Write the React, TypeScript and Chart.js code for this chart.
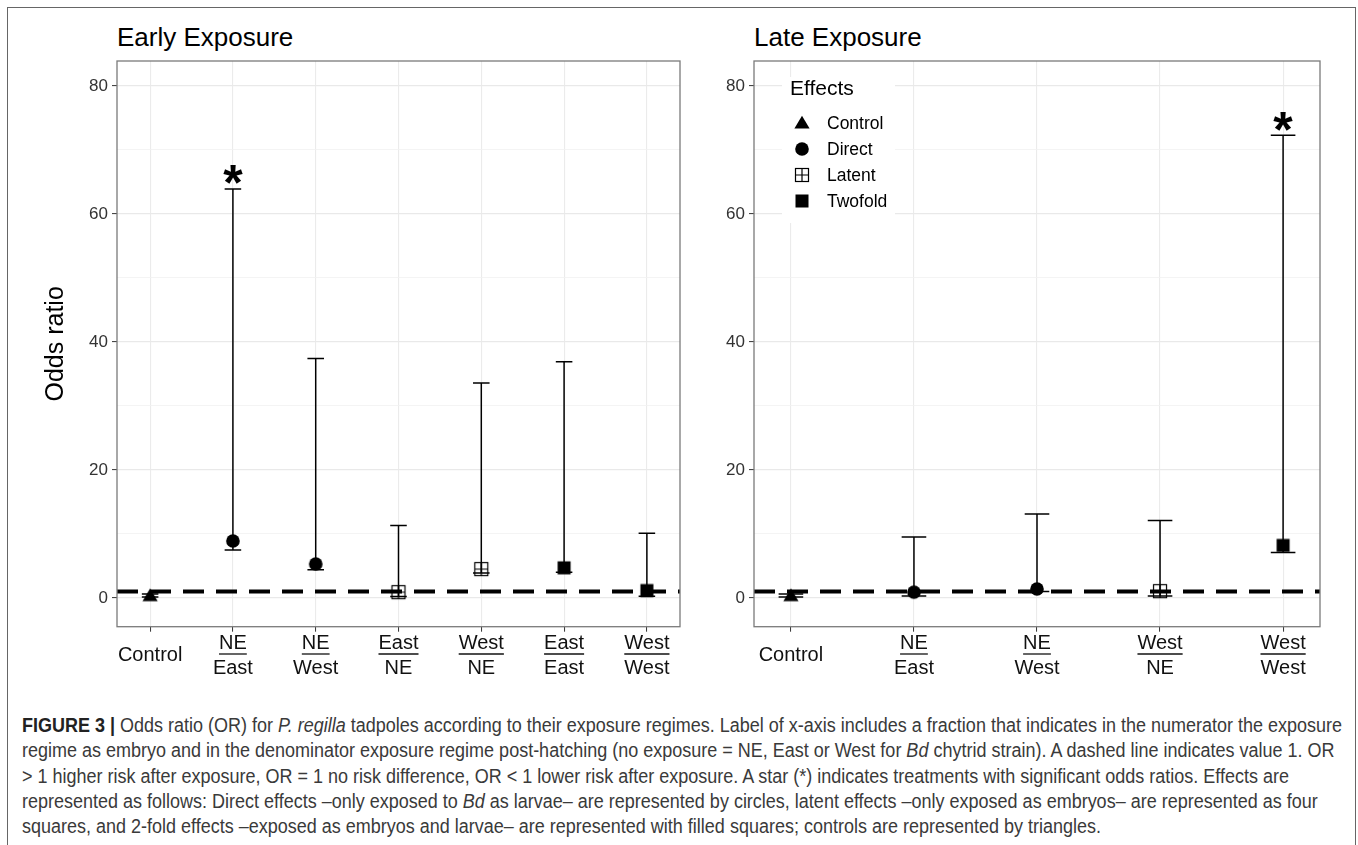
import React, { useEffect, useLayoutEffect, useRef } from 'react';
import { Chart, registerables } from 'chart.js';

Chart.register(...registerables);

// ---------------- data ----------------
const earlyNumerators = ['Control', 'NE', 'NE', 'East', 'West', 'East', 'West'];
const earlyDenominators = ['', 'East', 'West', 'NE', 'NE', 'East', 'West'];
const earlyEffects = ['Control', 'Direct', 'Direct', 'Latent', 'Latent', 'Twofold', 'Twofold'];
const earlyOddsRatio = [0.35, 8.9, 5.3, 0.9, 4.5, 4.7, 1.15];
const earlyLower = [0.15, 7.5, 4.4, 0.2, 3.9, 4.0, 0.25];
const earlyUpper = [0.6, 63.9, 37.4, 11.3, 33.6, 36.9, 10.1];
const earlySignificant = [false, true, false, false, false, false, false];

const lateNumerators = ['Control', 'NE', 'NE', 'West', 'West'];
const lateDenominators = ['', 'East', 'West', 'NE', 'West'];
const lateEffects = ['Control', 'Direct', 'Direct', 'Latent', 'Twofold'];
const lateOddsRatio = [0.35, 0.9, 1.4, 1.05, 8.2];
const lateLower = [0.15, 0.3, 1.0, 0.3, 7.1];
const lateUpper = [0.6, 9.5, 13.1, 12.1, 72.3];
const lateSignificant = [false, false, false, false, true];

const effectNames = ['Control', 'Direct', 'Latent', 'Twofold'];
const yMajorTicks = [0, 20, 40, 60, 80];
const yMinorTicks = [10, 30, 50, 70];
const referenceValue = 1;
const yMin = -4.5;
const yMax = 83.9;

const FONT = '"Liberation Sans", Arial, Helvetica, sans-serif';
Chart.defaults.font.family = FONT;

// ---------------- markers ----------------
function makeMarker(kind: string): HTMLCanvasElement {
  const c = document.createElement('canvas');
  c.width = 18;
  c.height = 18;
  const g = c.getContext('2d') as CanvasRenderingContext2D;
  g.fillStyle = '#000';
  g.strokeStyle = '#000';
  const m = 9;
  if (kind === 'Control') {
    g.beginPath();
    g.moveTo(m, m - 7.2);
    g.lineTo(m + 7.6, m + 5.6);
    g.lineTo(m - 7.6, m + 5.6);
    g.closePath();
    g.fill();
  } else if (kind === 'Direct') {
    g.beginPath();
    g.arc(m, m, 6.8, 0, Math.PI * 2);
    g.fill();
  } else if (kind === 'Latent') {
    g.lineWidth = 1.2;
    g.strokeRect(m - 6.5, m - 6.5, 13, 13);
    g.beginPath();
    g.moveTo(m, m - 6.5);
    g.lineTo(m, m + 6.5);
    g.moveTo(m - 6.5, m);
    g.lineTo(m + 6.5, m);
    g.stroke();
  } else {
    g.fillRect(m - 6.5, m - 6.5, 13, 13);
  }
  return c;
}

interface PanelCfg {
  numerators: string[];
  denominators: string[];
  effects: string[];
  or: number[];
  lower: number[];
  upper: number[];
  significant: boolean[];
  padLeftUnits: number;
  padRightUnits: number;
  yAxisWidth: number;
  rightPad: number;
  showYTitle: boolean;
  showLegend: boolean;
}

const CAP_HALF = 0.1;
const X_TICK_LEN = 5;
const X_TICK_PAD = 11.3;

function buildPanel(canvas: HTMLCanvasElement, cfg: PanelCfg) {
  const markers: Record<string, HTMLCanvasElement> = {};
  effectNames.forEach((e) => (markers[e] = makeMarker(e)));
  const n = cfg.numerators.length;
  const xMin = -cfg.padLeftUnits;
  const xMax = n - 1 + cfg.padRightUnits;

  const datasets: any[] = [];
  datasets.push({
    data: [
      { x: xMin, y: referenceValue },
      { x: xMax, y: referenceValue },
    ],
    showLine: true,
    borderColor: '#000',
    borderWidth: 3.8,
    borderDash: [21, 12],
    borderCapStyle: 'butt',
    pointRadius: 0,
    order: 0,
  });
  datasets.push({
    data: cfg.or.map((v, i) => ({ x: i, y: v })),
    pointStyle: (ctx: any) => markers[cfg.effects[ctx.dataIndex]],
    pointRadius: 9,
    showLine: false,
    order: 1,
  });
  cfg.or.forEach((_, i) => {
    const lo = cfg.lower[i];
    const hi = cfg.upper[i];
    datasets.push({
      data: [
        { x: i - CAP_HALF, y: hi },
        { x: i + CAP_HALF, y: hi },
        { x: i, y: hi },
        { x: i, y: lo },
        { x: i - CAP_HALF, y: lo },
        { x: i + CAP_HALF, y: lo },
      ],
      showLine: true,
      borderColor: '#000',
      borderWidth: 1.5,
      tension: 0,
      pointRadius: 0,
      order: 2,
    });
  });

  const panelPlugin = {
    id: 'panelExtras',
    beforeDatasetsDraw(chart: any) {
      if (!cfg.showLegend) return;
      const { ctx, chartArea } = chart;
      const L = chartArea.left;
      const T = chartArea.top;
      ctx.save();
      ctx.fillStyle = '#fff';
      ctx.fillRect(L + 28, T + 16, 113, 146);
      ctx.fillStyle = '#000';
      ctx.textBaseline = 'middle';
      ctx.textAlign = 'left';
      ctx.font = `21px ${FONT}`;
      ctx.fillText('Effects', L + 36, T + 28);
      ctx.font = `17.5px ${FONT}`;
      effectNames.forEach((e, k) => {
        const cy = T + 62 + k * 26;
        const mk = markers[e];
        ctx.drawImage(mk, L + 48 - mk.width / 2, cy - mk.height / 2);
        ctx.fillText(e, L + 73, cy + 1);
      });
      ctx.restore();
    },
    afterDatasetsDraw(chart: any) {
      const { ctx, scales } = chart;
      const x = scales.x;
      const y = scales.y;
      ctx.save();
      ctx.fillStyle = '#000';
      ctx.textAlign = 'center';
      ctx.textBaseline = 'alphabetic';
      ctx.font = `bold 50px ${FONT}`;
      cfg.significant.forEach((s, i) => {
        if (!s) return;
        ctx.fillText('*', x.getPixelForValue(i), y.getPixelForValue(cfg.upper[i]) + 11.3);
      });
      ctx.restore();
    },
    afterDraw(chart: any) {
      const { ctx, chartArea, scales } = chart;
      ctx.save();
      ctx.strokeStyle = '#7a7a7a';
      ctx.lineWidth = 1.3;
      ctx.strokeRect(chartArea.left, chartArea.top, chartArea.right - chartArea.left, chartArea.bottom - chartArea.top);
      // underline numerators of x labels (fraction bar)
      const x = scales.x;
      ctx.font = `20px ${FONT}`;
      ctx.strokeStyle = '#111';
      ctx.lineWidth = 1.3;
      const yLine = x.top + X_TICK_LEN + X_TICK_PAD + 11;
      cfg.numerators.forEach((num, i) => {
        if (!cfg.denominators[i]) return;
        const w = ctx.measureText(num).width;
        const px = x.getPixelForValue(i);
        ctx.beginPath();
        ctx.moveTo(px - w / 2, yLine);
        ctx.lineTo(px + w / 2, yLine);
        ctx.stroke();
      });
      ctx.restore();
    },
  };

  const isMajor = (v: number) => yMajorTicks.includes(v);

  return new Chart(canvas, {
    type: 'scatter',
    data: { datasets },
    plugins: [panelPlugin],
    options: {
      animation: false,
      responsive: false,
      devicePixelRatio: 1,
      events: [],
      layout: { padding: { top: 61, left: 0, right: cfg.rightPad, bottom: 0 } },
      plugins: { legend: { display: false }, tooltip: { enabled: false } },
      scales: {
        x: {
          type: 'linear',
          min: xMin,
          max: xMax,
          afterBuildTicks: (s: any) => {
            s.ticks = cfg.numerators.map((_, i) => ({ value: i }));
          },
          afterFit: (s: any) => {
            s.height = 63.3;
          },
          ticks: {
            autoSkip: false,
            maxRotation: 0,
            minRotation: 0,
            crossAlign: 'center',
            padding: X_TICK_PAD,
            color: '#111',
            font: { size: 20, lineHeight: 1.25 },
            callback: (v: any) => {
              const i = Math.round(Number(v));
              return cfg.denominators[i] ? [cfg.numerators[i], cfg.denominators[i]] : cfg.numerators[i];
            },
          },
          grid: {
            color: '#ebebeb',
            lineWidth: 1.1,
            tickColor: '#333',
            tickLength: X_TICK_LEN,
            tickWidth: 1,
          },
          border: { display: false },
        },
        y: {
          type: 'linear',
          min: yMin,
          max: yMax,
          afterBuildTicks: (s: any) => {
            s.ticks = [...yMajorTicks, ...yMinorTicks].sort((a, b) => a - b).map((v) => ({ value: v }));
          },
          afterFit: (s: any) => {
            s.width = cfg.yAxisWidth;
          },
          ticks: {
            padding: 4,
            color: '#333',
            font: { size: 17 },
            callback: (v: any) => (isMajor(Number(v)) ? String(v) : ''),
          },
          grid: {
            color: (c: any) => (isMajor(c.tick.value) ? '#e9e9e9' : '#f1f1f1'),
            lineWidth: (c: any) => (isMajor(c.tick.value) ? 1.2 : 0.8),
            tickColor: (c: any) => (isMajor(c.tick.value) ? '#333' : 'rgba(0,0,0,0)'),
            tickLength: 5,
            tickWidth: 1,
          },
          border: { display: false },
          title: {
            display: cfg.showYTitle,
            text: 'Odds ratio',
            color: '#000',
            font: { size: 25 },
            padding: { top: 41, bottom: 0 },
          },
        },
      },
    } as any,
  });
}

const CAPTION_WIDTH = 1320;

export default function App() {
  const leftRef = useRef<HTMLCanvasElement>(null);
  const rightRef = useRef<HTMLCanvasElement>(null);
  const captionRef = useRef<HTMLDivElement>(null);
  const firstLineRef = useRef<HTMLSpanElement>(null);

  useLayoutEffect(() => {
    const cap = captionRef.current;
    const first = firstLineRef.current;
    if (!cap || !first) return;
    const w = first.getBoundingClientRect().width;
    if (w > 0) cap.style.transform = `scaleX(${CAPTION_WIDTH / w})`;
  }, []);

  useEffect(() => {
    const left = buildPanel(leftRef.current as HTMLCanvasElement, {
      numerators: earlyNumerators,
      denominators: earlyDenominators,
      effects: earlyEffects,
      or: earlyOddsRatio,
      lower: earlyLower,
      upper: earlyUpper,
      significant: earlySignificant,
      padLeftUnits: 0.4,
      padRightUnits: 0.4,
      yAxisWidth: 117,
      rightPad: 7,
      showYTitle: true,
      showLegend: false,
    });
    const right = buildPanel(rightRef.current as HTMLCanvasElement, {
      numerators: lateNumerators,
      denominators: lateDenominators,
      effects: lateEffects,
      or: lateOddsRatio,
      lower: lateLower,
      upper: lateUpper,
      significant: lateSignificant,
      padLeftUnits: 0.3,
      padRightUnits: 0.3,
      yAxisWidth: 64,
      rightPad: 38,
      showYTitle: false,
      showLegend: true,
    });
    return () => {
      left.destroy();
      right.destroy();
    };
  }, []);

  const titleStyle: React.CSSProperties = {
    position: 'absolute',
    top: 24,
    fontFamily: FONT,
    fontSize: 26,
    lineHeight: 1,
    color: '#000',
    whiteSpace: 'nowrap',
  };

  return (
    <div
      style={{
        position: 'absolute',
        left: 0,
        top: 0,
        width: 1358,
        height: 845,
        overflow: 'hidden',
        background: '#fff',
      }}
    >
      <div
        style={{
          position: 'absolute',
          left: 7,
          top: 7,
          width: 1349,
          height: 900,
          boxSizing: 'border-box',
          border: '1.5px solid #666',
        }}
      />
      <div style={{ ...titleStyle, left: 117 }}>Early Exposure</div>
      <div style={{ ...titleStyle, left: 754 }}>Late Exposure</div>
      <canvas ref={leftRef} width={690} height={690} style={{ position: 'absolute', left: 0, top: 0 }} />
      <canvas ref={rightRef} width={668} height={690} style={{ position: 'absolute', left: 690, top: 0 }} />
      <div
        ref={captionRef}
        style={{
          position: 'absolute',
          left: 22,
          top: 713,
          transformOrigin: 'left top',
          fontFamily: FONT,
          fontSize: 19.5,
          lineHeight: '25.25px',
          color: '#3a3a3a',
          whiteSpace: 'nowrap',
        }}
      >
        <div>
          <span ref={firstLineRef}>
            <b style={{ color: '#222' }}>FIGURE 3 |</b> Odds ratio (OR) for <i>P. regilla</i> tadpoles according to their exposure regimes. Label of x-axis includes a fraction that indicates in the numerator the exposure
          </span>
        </div>
        <div>
          regime as embryo and in the denominator exposure regime post-hatching (no exposure = NE, East or West for <i>Bd</i> chytrid strain). A dashed line indicates value 1. OR
        </div>
        <div>
          &gt; 1 higher risk after exposure, OR = 1 no risk difference, OR &lt; 1 lower risk after exposure. A star (*) indicates treatments with significant odds ratios. Effects are
        </div>
        <div>
          represented as follows: Direct effects –only exposed to <i>Bd</i> as larvae– are represented by circles, latent effects –only exposed as embryos– are represented as four
        </div>
        <div>
          squares, and 2-fold effects –exposed as embryos and larvae– are represented with filled squares; controls are represented by triangles.
        </div>
      </div>
    </div>
  );
}
